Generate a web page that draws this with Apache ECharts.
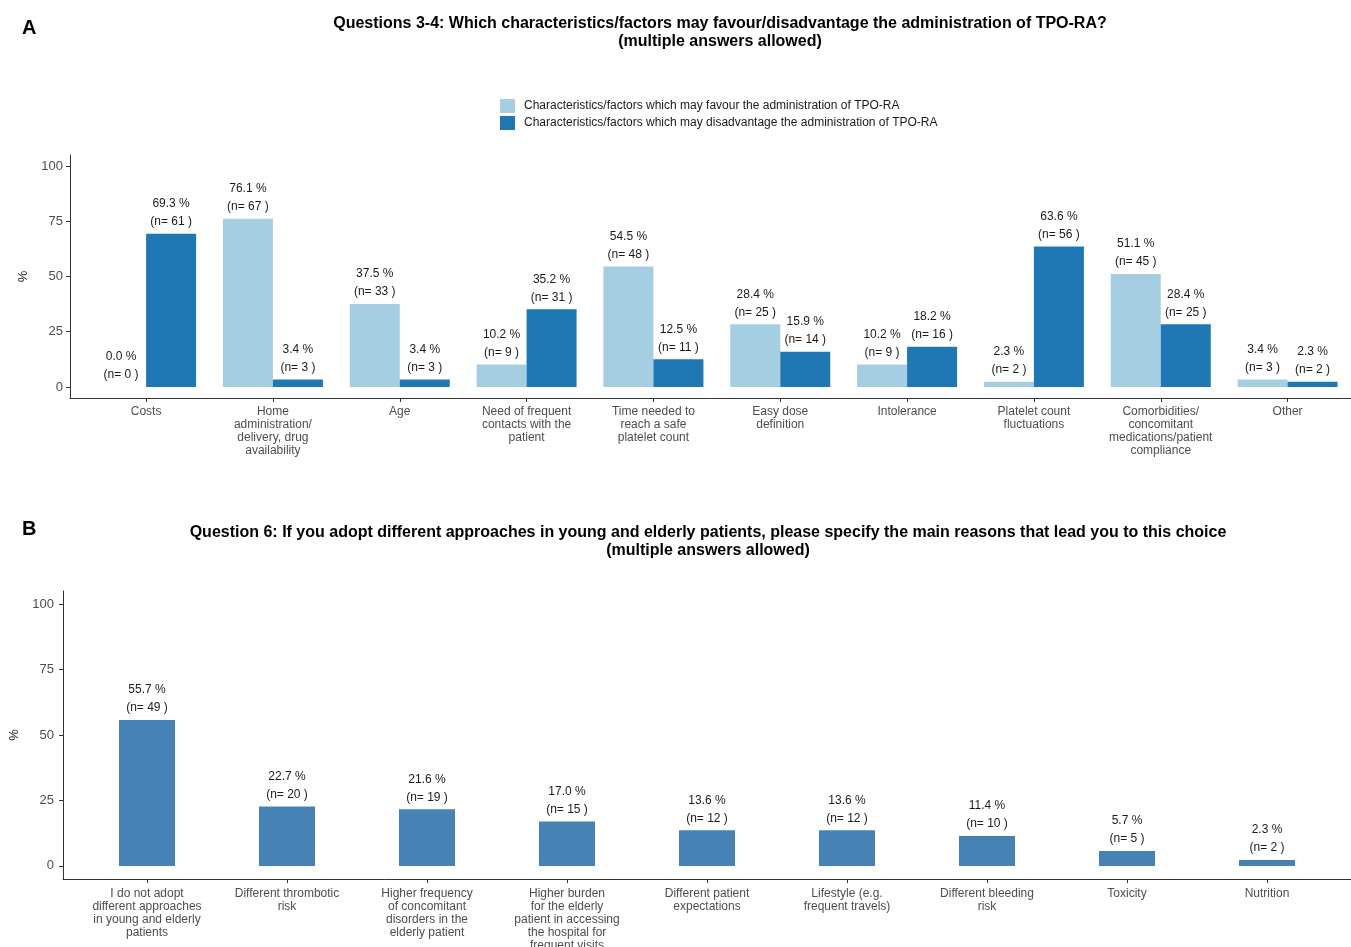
<!DOCTYPE html>
<html>
<head>
<meta charset="utf-8">
<script src="https://cdn.jsdelivr.net/npm/echarts@6/dist/echarts.min.js"></script>
<style>
  html, body { margin: 0; padding: 0; background: #fff; }
  #chart { width: 1351px; height: 947px; }
</style>
</head>
<body>
<div id="chart"></div>
<script>
// Panel A: questions 3-4
const catsA = [
  'Costs',
  'Home\nadministration/\ndelivery, drug\navailability',
  'Age',
  'Need of frequent\ncontacts with the\npatient',
  'Time needed to\nreach a safe\nplatelet count',
  'Easy dose\ndefinition',
  'Intolerance',
  'Platelet count\nfluctuations',
  'Comorbidities/\nconcomitant\nmedications/patient\ncompliance',
  'Other'
];
const favourPct = [0.0, 76.1, 37.5, 10.2, 54.5, 28.4, 10.2, 2.3, 51.1, 3.4];
const favourN = [0, 67, 33, 9, 48, 25, 9, 2, 45, 3];
const disadvPct = [69.3, 3.4, 3.4, 35.2, 12.5, 15.9, 18.2, 63.6, 28.4, 2.3];
const disadvN = [61, 3, 3, 31, 11, 14, 16, 56, 25, 2];

// Panel B: question 6
const catsB = [
  'I do not adopt\ndifferent approaches\nin young and elderly\npatients',
  'Different thrombotic\nrisk',
  'Higher frequency\nof concomitant\ndisorders in the\nelderly patient',
  'Higher burden\nfor the elderly\npatient in accessing\nthe hospital for\nfrequent visits',
  'Different patient\nexpectations',
  'Lifestyle (e.g.\nfrequent travels)',
  'Different bleeding\nrisk',
  'Toxicity',
  'Nutrition'
];
const reasonPct = [55.7, 22.7, 21.6, 17.0, 13.6, 13.6, 11.4, 5.7, 2.3];
const reasonN = [49, 20, 19, 15, 12, 12, 10, 5, 2];

const yTicks = [0, 25, 50, 75, 100];
const FONT = '"Liberation Sans", Arial, sans-serif';

const nameFav = 'Characteristics/factors which may favour the administration of TPO-RA';
const nameDis = 'Characteristics/factors which may disadvantage the administration of TPO-RA';

function pairs(vals, ns) {
  return vals.map((v, i) => ({ value: [i, v], n: ns[i] }));
}

const barLabel = {
  show: true,
  position: 'top',
  distance: 3,
  fontFamily: FONT,
  fontSize: 12,
  color: '#1a1a1a',
  lineHeight: 18,
  formatter: p => p.value[1].toFixed(1) + ' %\n(n= ' + p.data.n + ' )'
};

function xAxisFor(gridIndex, cats, max, margin) {
  const idx = cats.map((_, i) => i);
  return {
    type: 'value',
    gridIndex: gridIndex,
    min: -0.6,
    max: max,
    splitLine: { show: false },
    axisLine: { show: true, onZero: false, lineStyle: { color: '#333', width: 1 } },
    axisTick: { show: true, length: 4, customValues: idx, lineStyle: { color: '#333' } },
    axisLabel: {
      customValues: idx,
      formatter: v => cats[Math.round(v)],
      fontFamily: FONT,
      fontSize: 12,
      lineHeight: 13,
      color: '#4d4d4d',
      margin: margin,
      align: 'center',
      verticalAlign: 'top'
    }
  };
}

function yAxisFor(gridIndex, gap, margin) {
  return {
    type: 'value',
    gridIndex: gridIndex,
    min: -5,
    max: 105,
    name: '%',
    nameLocation: 'middle',
    nameRotate: 90,
    nameGap: gap,
    nameTextStyle: { fontFamily: FONT, fontSize: 13, color: '#1a1a1a' },
    splitLine: { show: false },
    axisLine: { show: true, onZero: false, lineStyle: { color: '#333', width: 1 } },
    axisTick: { show: true, length: 4, customValues: yTicks, lineStyle: { color: '#333' } },
    axisLabel: {
      customValues: yTicks,
      fontFamily: FONT,
      fontSize: 13,
      color: '#4d4d4d',
      margin: margin
    }
  };
}

const chart = echarts.init(document.getElementById('chart'), null, { renderer: 'canvas' });

chart.setOption({
  backgroundColor: '#ffffff',
  animation: false,
  title: [
    { text: 'A', left: 17, top: 13, textStyle: { fontFamily: FONT, fontSize: 20, fontWeight: 'bold', color: '#000' } },
    {
      text: 'Questions 3-4: Which characteristics/factors may favour/disadvantage the administration of TPO-RA?\n(multiple answers allowed)',
      left: 715, top: 10, textAlign: 'center',
      textStyle: { fontFamily: FONT, fontSize: 16, fontWeight: 'bold', color: '#000', lineHeight: 18 }
    },
    { text: 'B', left: 17, top: 514, textStyle: { fontFamily: FONT, fontSize: 20, fontWeight: 'bold', color: '#000' } },
    {
      text: 'Question 6: If you adopt different approaches in young and elderly patients, please specify the main reasons that lead you to this choice\n(multiple answers allowed)',
      left: 703, top: 519, textAlign: 'center',
      textStyle: { fontFamily: FONT, fontSize: 16, fontWeight: 'bold', color: '#000', lineHeight: 18 }
    }
  ],
  legend: {
    orient: 'vertical',
    left: 495,
    top: 94,
    itemWidth: 15,
    itemHeight: 14,
    itemGap: 3,
    icon: 'rect',
    data: [nameFav, nameDis],
    textStyle: { fontFamily: FONT, fontSize: 12, color: '#1a1a1a', padding: [0, 0, 0, 4] }
  },
  grid: [
    { left: 70, right: 0, top: 155, height: 243, outerBoundsMode: 'none' },
    { left: 63, right: 0, top: 591, height: 288, outerBoundsMode: 'none' }
  ],
  xAxis: [
    xAxisFor(0, catsA, 9.5, 7),
    xAxisFor(1, catsB, 8.6, 8)
  ],
  yAxis: [
    yAxisFor(0, 35, 7),
    yAxisFor(1, 36, 9)
  ],
  series: [
    {
      name: nameFav,
      type: 'bar',
      xAxisIndex: 0, yAxisIndex: 0,
      barWidth: 50,
      barGap: '0%',
      itemStyle: { color: '#a6cee3' },
      label: barLabel,
      data: pairs(favourPct, favourN)
    },
    {
      name: nameDis,
      type: 'bar',
      xAxisIndex: 0, yAxisIndex: 0,
      barWidth: 50,
      barGap: '0%',
      itemStyle: { color: '#1f78b4' },
      label: barLabel,
      data: pairs(disadvPct, disadvN)
    },
    {
      name: 'Reasons',
      type: 'bar',
      xAxisIndex: 1, yAxisIndex: 1,
      barWidth: 56,
      itemStyle: { color: '#4682b4' },
      label: barLabel,
      data: pairs(reasonPct, reasonN)
    }
  ]
});
</script>
</body>
</html>
